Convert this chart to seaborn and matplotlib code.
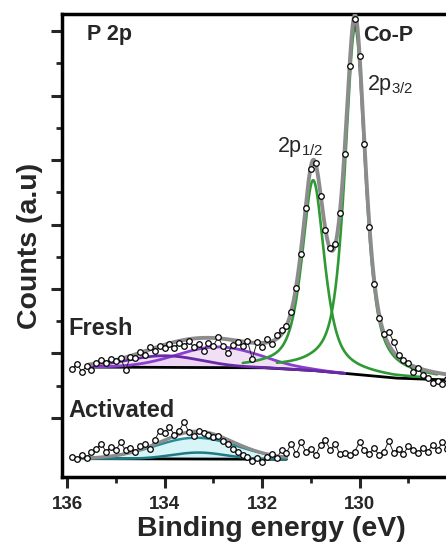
import numpy as np
import pandas as pd
import matplotlib
matplotlib.use("Agg")
import matplotlib.pyplot as plt
import seaborn as sns

# ---------------- data ----------------
energy = [round(135.9 - 0.1 * i, 1) for i in range(78)]  # 135.9 ... 128.2 eV

fresh_counts = [1.76, 1.84, 1.72, 1.80, 1.74, 1.86, 1.90, 1.85, 1.92, 1.88,
                1.93, 1.74, 1.95, 1.93, 2.02, 1.97, 2.10, 2.04, 2.12, 2.08,
                2.14, 2.09, 2.16, 2.12, 2.19, 2.10, 2.15, 2.04, 2.17, 2.12,
                2.25, 2.11, 2.01, 2.13, 2.18, 2.12, 2.20, 1.92, 2.18, 2.10,
                2.22, 2.15, 2.28, 2.36, 2.42, 2.64, 3.02, 3.55, 4.25, 4.86,
                4.96, 4.44, 3.92, 3.64, 3.70, 4.18, 5.10, 6.46, 7.18, 6.62,
                5.25, 3.96, 3.08, 2.55, 2.30, 2.34, 2.18, 1.98, 1.90, 1.85,
                1.72, 1.78, 1.66, 1.62, 1.55, 1.58, 1.52, 1.60]

activated_counts = [0.40, 0.36, 0.42, 0.38, 0.47, 0.52, 0.60, 0.48, 0.55, 0.50,
                    0.62, 0.50, 0.54, 0.48, 0.56, 0.60, 0.52, 0.66, 0.80, 0.76,
                    0.86, 0.74, 0.80, 0.94, 0.78, 0.72, 0.80, 0.76, 0.74, 0.70,
                    0.72, 0.64, 0.60, 0.52, 0.48, 0.42, 0.40, 0.34, 0.38, 0.32,
                    0.40, 0.44, 0.38, 0.50, 0.46, 0.60, 0.44, 0.62, 0.48, 0.52,
                    0.42, 0.58, 0.66, 0.50, 0.60, 0.44, 0.46, 0.42, 0.48, 0.62,
                    0.50, 0.44, 0.54, 0.42, 0.48, 0.64, 0.46, 0.52, 0.44, 0.56,
                    0.50, 0.46, 0.54, 0.48, 0.58, 0.50, 0.62, 0.52]

# fitted background (Shirley-like) knots
fresh_bg_energy = [135.9, 132.0, 131.0, 130.0, 129.3, 128.2, 127.5]
fresh_bg_level = [1.79, 1.78, 1.74, 1.67, 1.62, 1.59, 1.59]
act_bg_energy = [135.95, 131.5]
act_bg_level = [0.37, 0.36]

# fitted peak components: centre (eV), height, FWHM (eV), Lorentz fraction
fresh_green_center = [130.95, 130.09]
fresh_green_height = [2.95, 5.38]
fresh_green_fwhm = [0.55, 0.50]
fresh_green_eta = [0.7, 0.7]
fresh_purple_center = [132.9, 134.0]
fresh_purple_height = [0.32, 0.18]
fresh_purple_fwhm = [2.0, 1.8]
act_teal_center = [133.35, 133.3]
act_teal_height = [0.33, 0.10]
act_teal_fwhm = [2.0, 1.3]

x_ticks = [136, 134, 132, 130]


def pvoigt(e, c, h, fwhm, eta):
    g = fwhm / 2.0
    d = (e - c) / g
    return h * (eta / (1 + d ** 2) + (1 - eta) * np.exp(-np.log(2) * d ** 2))


# ---------------- style ----------------
sns.set_style("ticks")
plt.rcParams["font.family"] = ["Liberation Sans", "DejaVu Sans"]
plt.rcParams["mathtext.fontset"] = "custom"
plt.rcParams["mathtext.rm"] = "Liberation Sans"
plt.rcParams["mathtext.it"] = "Liberation Sans:italic"

fig = plt.figure(figsize=(4.46, 5.44), dpi=100)
ax = fig.add_axes([62 / 446, 67 / 544, 419 / 446, 463 / 544])

grid = np.linspace(135.55, 128.0, 800)

# ---- Fresh ----
fb = np.interp(grid[::-1], fresh_bg_energy[::-1], fresh_bg_level[::-1])[::-1]
purple_cols = ["#8a3fd0", "#6a2aa8"]
purple_curves = []
for c, h, w in zip(fresh_purple_center, fresh_purple_height, fresh_purple_fwhm):
    comp = pvoigt(grid, c, h, w, 0.0)
    purple_curves.append(comp)
    m = grid >= 130.3
    ax.fill_between(grid[m], fb[m], fb[m] + comp[m], color="#ecd3f2", alpha=0.7, lw=0, zorder=1)
for comp, pc in zip(purple_curves, purple_cols):
    m = grid >= 130.3
    sns.lineplot(x=grid[m], y=fb[m] + comp[m], color=pc, lw=2.0, ax=ax, sort=False, zorder=3)
green_curves = []
green_ranges = [(132.4, 128.6), (131.7, 128.4)]
for c, h, w, eta, (hi, lo) in zip(fresh_green_center, fresh_green_height, fresh_green_fwhm,
                                   fresh_green_eta, green_ranges):
    comp = pvoigt(grid, c, h, w, eta)
    green_curves.append(comp)
    m = (grid <= hi) & (grid >= lo)
    sns.lineplot(x=grid[m], y=fb[m] + comp[m], color="#2f9a34", lw=1.9, ax=ax, sort=False, zorder=3)
sns.lineplot(x=grid, y=fb, color="black", lw=2.0, ax=ax, sort=False, zorder=2)
env = fb + sum(purple_curves) + sum(green_curves)
sns.lineplot(x=grid, y=env, color="#8c8c8c", lw=2.8, ax=ax, sort=False, zorder=4)

# ---- Activated ----
ag = np.linspace(135.9, 131.5, 400)
ab = np.interp(ag[::-1], act_bg_energy[::-1], act_bg_level[::-1])[::-1]
teal_curves = []
for c, h, w in zip(act_teal_center, act_teal_height, act_teal_fwhm):
    comp = pvoigt(ag, c, h, w, 0.0)
    teal_curves.append(comp)
    ax.fill_between(ag, ab, ab + comp, color="#cdf2f4", alpha=0.8, lw=0, zorder=1)
sns.lineplot(x=ag, y=ab, color="black", lw=2.0, ax=ax, sort=False, zorder=2)
for comp, tc in zip(teal_curves, ["#2a8c98", "#1f7a84"]):
    sns.lineplot(x=ag, y=ab + comp, color=tc, lw=1.8, ax=ax, sort=False, zorder=3)
sns.lineplot(x=ag, y=ab + sum(teal_curves), color="#8c8c8c", lw=2.4, ax=ax, sort=False, zorder=4)

# ---- measured data ----
df = pd.DataFrame({"energy": energy, "fresh": fresh_counts, "activated": activated_counts})
for col in ["fresh", "activated"]:
    sns.lineplot(data=df, x="energy", y=col, ax=ax, sort=False, color="#222222",
                 lw=0.7, zorder=3.5)
    sns.scatterplot(data=df, x="energy", y=col, ax=ax, marker="o", s=16,
                    facecolor="white", edgecolor="black", linewidth=0.9, zorder=5)

# ---------------- axes ----------------
ax.set_xlim(136.103, 127.508)
ax.set_ylim(0.085, 7.264)
ax.set_xticks(x_ticks)
ax.set_xticklabels([str(t) for t in x_ticks], fontsize=13.5, fontweight="bold")
ax.set_xticks([135, 133, 131, 129], minor=True)
ax.set_yticks([1, 2, 3, 4, 5, 6, 7])
ax.set_yticks([1.5, 2.5, 3.5, 4.5, 5.5, 6.5], minor=True)
ax.set_yticklabels([])
ax.tick_params(axis="both", which="major", direction="out", length=8, width=2.2, pad=6)
ax.tick_params(axis="both", which="minor", direction="out", length=4.5, width=2.0)
for s in ax.spines.values():
    s.set_linewidth(2.5)
    s.set_color("black")

ax.set_xlabel("Binding energy (eV)", fontsize=20.5, fontweight="bold", labelpad=2)
ax.set_ylabel("Counts (a.u)", fontsize=20.5, fontweight="bold", labelpad=0)

ax.text(135.59, 6.86, "P 2p", fontsize=15.5, fontweight="bold", va="baseline", ha="left")
ax.text(129.93, 6.845, "Co-P", fontsize=15.5, fontweight="bold", va="baseline", ha="left")
ax.text(129.85, 6.085, r"2p$_{\mathrm{3/2}}$", fontsize=15.5, va="baseline", ha="left")
ax.text(131.69, 5.12, r"2p$_{\mathrm{1/2}}$", fontsize=15.5, va="baseline", ha="left")
ax.text(135.98, 2.29, "Fresh", fontsize=17, fontweight="bold", va="baseline", ha="left")
ax.text(135.98, 1.015, "Activated", fontsize=17, fontweight="bold", va="baseline", ha="left")

fig.savefig("out.png", dpi=100, facecolor="white")
